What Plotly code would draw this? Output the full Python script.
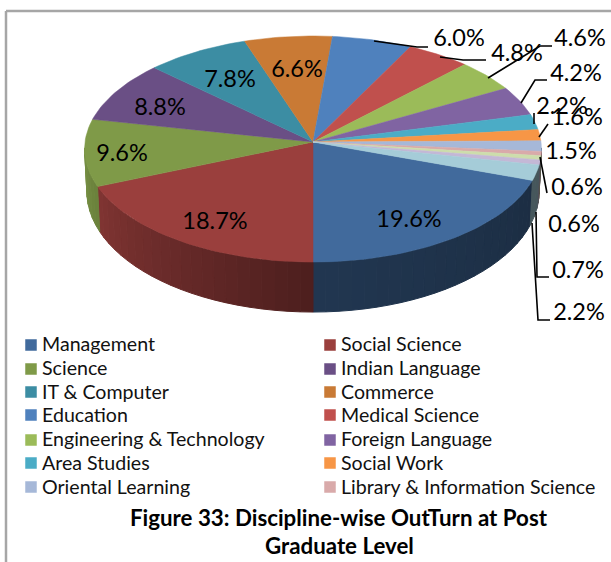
import math
import plotly.graph_objects as go

# ---- data ----
categories = ["Management", "Social Science", "Science", "Indian Language", "IT & Computer",
              "Commerce", "Education", "Medical Science", "Engineering & Technology",
              "Foreign Language", "Area Studies", "Social Work", "Oriental Learning",
              "Library & Information Science", "Other A", "Other B", "Other C"]
values = [19.6, 18.7, 9.6, 8.8, 7.8, 6.6, 6.0, 4.8, 4.6, 4.2, 2.2, 1.6, 1.5, 0.6, 0.6, 0.7, 2.2]
value_labels = ["19.6%", "18.7%", "9.6%", "8.8%", "7.8%", "6.6%", "6.0%", "4.8%", "4.6%",
                "4.2%", "2.2%", "1.6%", "1.5%", "0.6%", "0.6%", "0.7%", "2.2%"]
legend_count = 14
title_lines = ["Figure 33: Discipline-wise OutTurn at Post", "Graduate Level"]

# ---- styles and geometry ----
colors = ["#416a9c", "#9a3f3d", "#7f9a48", "#6a4f85", "#3c8da3", "#c97a35", "#4f81bd", "#c0504d",
          "#9bbb59", "#8064a2", "#4bacc6", "#f79646", "#a6b8d8", "#d9aaaa", "#cdddac", "#c4b8d6", "#a5ccd8"]
label_xy = [(409, 221), (215, 223), (122, 155), (160, 109), (230, 81), (297, 71), (459, 40),
            (517, 55), (580, 40), (576, 75), (562, 108), (577, 119), (571, 153), (577, 189),
            (574, 226), (578, 272), (579, 314)]
leaders = [[(374, 41), (417, 47), (428, 47)], [(440, 57), (463, 60), (486, 60)],
           [(488, 78), (540, 46), (552, 46)], [(521, 103), (535, 80), (547, 80)],
           [(534, 113), (534, 124)], [(539, 137), (548, 124)], [(540, 157), (547, 193)],
           [(536, 212), (537, 277), (549, 277)], [(532, 223), (538, 320), (550, 320)]]
CX, CY, RX, RY, K = 313, 142, 228, 112.6, -0.062
END_ANGLE = 180.0  # the first wedge ends at six o'clock
FONT = "Lato"


def rim(theta, top=True):
    u, v = math.sin(math.radians(theta)), -math.cos(math.radians(theta))
    d = 1 + K * v
    x, y = CX + RX * u / d, CY + RY * v / d
    if not top:
        x = CX + (x - CX) * 0.99
        y += 42 + 8 * v
    return x, y


def shade(theta):
    if theta <= 180:
        return 0.42 + (theta - 100) / 80 * 0.10
    return 0.5 + (theta - 180) / 70 * 0.35


def rgb(hex_color, f=1.0):
    h = hex_color.lstrip("#")
    return "rgb(%d,%d,%d)" % tuple(int(int(h[i:i + 2], 16) * f) for i in (0, 2, 4))


total = sum(values)
sweeps = [v / total * 360 for v in values]
start = END_ANGLE - sweeps[0]
edges = [start]
for s in sweeps:
    edges.append(edges[-1] + s)

fig = go.Figure()

# side wall
for i, name in enumerate(categories):
    a0, a1 = edges[i], edges[i + 1]
    for lo_raw, hi_raw in [(a0, a1), (a0 - 360, a1 - 360)]:
        lo, hi = max(lo_raw, 93), min(hi_raw, 267)
        if hi <= lo:
            continue
        n = max(1, int((hi - lo) / 3))
        for j in range(n):
            t0 = lo + (hi - lo) * j / n
            t1 = lo + (hi - lo) * (j + 1) / n
            pts = [rim(t0), rim(t1), rim(t1, False), rim(t0, False), rim(t0)]
            c = rgb(colors[i], shade((t0 + t1) / 2))
            fig.add_trace(go.Scatter(x=[p[0] for p in pts], y=[p[1] for p in pts], mode="lines",
                                     fill="toself", fillcolor=c, line=dict(color=c, width=1),
                                     hoverinfo="skip", showlegend=False))

# top faces
for i, name in enumerate(categories):
    a0, a1 = edges[i], edges[i + 1]
    n = max(2, int((a1 - a0) / 1.5))
    pts = [(CX, CY)] + [rim(a0 + (a1 - a0) * j / n) for j in range(n + 1)] + [(CX, CY)]
    fig.add_trace(go.Scatter(x=[p[0] for p in pts], y=[p[1] for p in pts], mode="lines",
                             fill="toself", fillcolor=colors[i],
                             line=dict(color=colors[i], width=0.5), name=name,
                             text=value_labels[i], hoverinfo="name+text", showlegend=False))

# leader lines
for seg in leaders:
    fig.add_trace(go.Scatter(x=[p[0] for p in seg], y=[p[1] for p in seg], mode="lines",
                             line=dict(color="black", width=1.6), hoverinfo="skip", showlegend=False))

# value labels
fig.add_trace(go.Scatter(x=[p[0] for p in label_xy], y=[p[1] for p in label_xy], mode="text",
                         text=value_labels, textposition="middle center",
                         textfont=dict(family=FONT, size=23.5, color="black"),
                         hoverinfo="skip", showlegend=False))

# legend
swatch_y = [345, 369, 392, 415, 440, 463, 487]
text_y = [346, 370, 394, 417, 441, 465, 489]
swatch_x = [31, 330]
text_x = [42, 341]
for i in range(legend_count):
    fig.add_trace(go.Scatter(x=[swatch_x[i % 2]], y=[swatch_y[i // 2]], mode="markers",
                             marker=dict(symbol="square", size=11.5, color=colors[i]),
                             name=categories[i], showlegend=False))
    fig.add_trace(go.Scatter(x=[text_x[i % 2]], y=[text_y[i // 2]], mode="text",
                             text=[categories[i]], textposition="middle right",
                             textfont=dict(family=FONT, size=19.6, color="#111111"),
                             hoverinfo="skip", showlegend=False))

fig.add_annotation(x=339, y=517, text="<b>%s</b>" % title_lines[0], showarrow=False,
                   font=dict(family=FONT, size=22.3, color="black"))
fig.add_annotation(x=339, y=545, text="<b>%s</b>" % title_lines[1], showarrow=False,
                   font=dict(family=FONT, size=22.3, color="black"))

# picture frame
frame = dict(color="#a6a6a6", width=2.5)
fig.add_shape(type="line", x0=6, x1=611, y0=11, y1=11, line=frame)
fig.add_shape(type="line", x0=6, x1=6, y0=11, y1=562, line=frame)

fig.update_xaxes(range=[0, 611], visible=False, fixedrange=True)
fig.update_yaxes(range=[562, 0], visible=False, fixedrange=True)
fig.update_layout(width=611, height=562, margin=dict(l=0, r=0, t=0, b=0),
                  paper_bgcolor="white", plot_bgcolor="white", showlegend=False)
fig.write_html("out.html", config=dict(displayModeBar=False),
               post_script="document.body.style.margin='0';document.documentElement.style.overflow='hidden';")
